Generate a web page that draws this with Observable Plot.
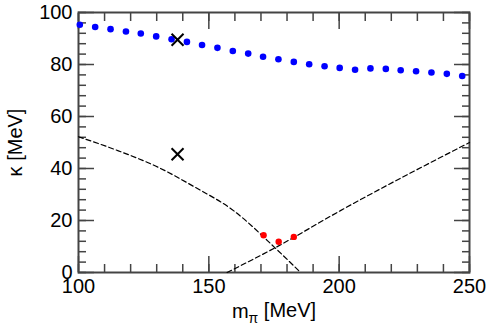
<!DOCTYPE html>
<html>
<head>
<meta charset="utf-8">
<script src="https://cdn.jsdelivr.net/npm/d3@7"></script>
<script src="https://cdn.jsdelivr.net/npm/@observablehq/plot@0.6"></script>
<style>
  html, body { margin: 0; padding: 0; background: #fff; }
  svg { display: block; }
</style>
</head>
<body>
<div id="chart"></div>
<script>
// Blue dots
const blueM = [100.5, 106.4, 112.3, 118.2, 123.9, 129.8, 135.7, 141.6, 147.4, 153.3, 159.2, 165.1, 170.8, 176.7, 182.6, 188.5, 194.4, 200.2, 206.1, 212.0, 217.9, 223.6, 229.5, 235.4, 241.3, 247.2];
const blueK = [95.3, 94.4, 93.6, 92.7, 91.9, 90.8, 89.7, 88.7, 87.5, 86.4, 85.2, 84.2, 83.0, 82.0, 81.0, 80.1, 79.3, 78.7, 78.0, 78.5, 78.3, 77.8, 77.4, 76.9, 76.4, 75.6];
// Red dots
const redM = [171.0, 176.8, 182.6];
const redK = [14.3, 11.8, 13.7];
// Crosses
const crossM = [138, 138];
const crossK = [89.5, 45.5];
// Dashed curve 1 (decreasing)
const line1M = [100, 115.3, 130.7, 144, 159.6, 175.6, 185.2];
const line1K = [52.2, 46.8, 40.4, 33.2, 23.7, 9.3, 0];
// Dashed curve 2 (increasing)
const line2M = [157, 175.6, 200.5, 250];
const line2K = [0, 9.6, 23.8, 50];
// Ticks
const xMajor = [100, 150, 200, 250];
const xMinor = d3.range(100, 251, 10);
const yMajor = [0, 20, 40, 60, 80, 100];
const yMinor = d3.range(0, 101, 4);

const zip = (a, b) => a.map((v, i) => ({m: v, k: b[i]}));
const blue = zip(blueM, blueK);
const red = zip(redM, redK);
const cross = zip(crossM, crossK);
const l1 = zip(line1M, line1K);
const l2 = zip(line2M, line2K);

const font = "Liberation Sans, Arial, Helvetica, sans-serif";
const tickColor = "#444";

const chart = Plot.plot({
  width: 491,
  height: 330,
  marginLeft: 78,
  marginRight: 22,
  marginTop: 12,
  marginBottom: 58,
  style: {fontFamily: font, background: "#fff"},
  x: {domain: [100, 250]},
  y: {domain: [0, 100]},
  marks: [
    // minor ticks
    Plot.axisX({anchor: "bottom", ticks: xMinor, tickSize: -8, tickFormat: () => "", stroke: tickColor, strokeWidth: 1.5, label: null}),
    Plot.axisX({anchor: "top", ticks: xMinor, tickSize: -8, tickFormat: () => "", stroke: tickColor, strokeWidth: 1.5, label: null}),
    Plot.axisY({anchor: "left", ticks: yMinor, tickSize: -8, tickFormat: () => "", stroke: tickColor, strokeWidth: 1.5, label: null}),
    Plot.axisY({anchor: "right", ticks: yMinor, tickSize: -8, tickFormat: () => "", stroke: tickColor, strokeWidth: 1.5, label: null}),
    // major ticks
    Plot.axisX({anchor: "bottom", ticks: xMajor, tickSize: -16, tickFormat: () => "", stroke: tickColor, strokeWidth: 1.5, label: null}),
    Plot.axisX({anchor: "top", ticks: xMajor, tickSize: -16, tickFormat: () => "", stroke: tickColor, strokeWidth: 1.5, label: null}),
    Plot.axisY({anchor: "left", ticks: yMajor, tickSize: -16, tickFormat: () => "", stroke: tickColor, strokeWidth: 1.5, label: null}),
    Plot.axisY({anchor: "right", ticks: yMajor, tickSize: -16, tickFormat: () => "", stroke: tickColor, strokeWidth: 1.5, label: null}),
    // tick labels
    Plot.axisX({anchor: "bottom", ticks: xMajor, tickSize: 0, tickPadding: 6, fontSize: 20, fill: "#000", label: null, tickFormat: d3.format("d")}),
    Plot.axisY({anchor: "left", ticks: yMajor, tickSize: 0, tickPadding: 6, fontSize: 20, fill: "#000", label: null, tickFormat: d3.format("d")}),
    Plot.frame({stroke: tickColor, strokeWidth: 2}),
    // dashed curves
    Plot.line(l1, {x: "m", y: "k", stroke: "#000", strokeWidth: 1.2, strokeDasharray: "5,3", curve: "monotone-x"}),
    Plot.line(l2, {x: "m", y: "k", stroke: "#000", strokeWidth: 1.2, strokeDasharray: "5,3", curve: "monotone-x"}),
    // points
    Plot.dot(blue, {x: "m", y: "k", r: 3.3, fill: "#0000ff", stroke: "none"}),
    Plot.dot(red, {x: "m", y: "k", r: 3.2, fill: "#ff0000", stroke: "none"}),
    Plot.dot(cross, {x: "m", y: "k", symbol: "times", r: 5.5, stroke: "#000", strokeWidth: 2}),
    // axis titles
    Plot.text(["mπ [MeV]"], {frameAnchor: "bottom", dy: 39.5, fontSize: 20, fill: "#000", textAnchor: "middle", lineAnchor: "middle"}),
    Plot.text(["κ [MeV]"], {frameAnchor: "left", dx: -62.5, rotate: -90, fontSize: 20, fill: "#000", textAnchor: "middle", lineAnchor: "middle"})
  ]
});

// subscript π
d3.select(chart).selectAll("text").each(function() {
  const t = d3.select(this);
  if (t.text() === "mπ [MeV]") {
    t.text(null);
    t.append("tspan").text("m");
    t.append("tspan").attr("dy", "0.3em").attr("font-size", "14").text("π");
    t.append("tspan").attr("dy", "-0.3em").text(" [MeV]");
  }
});

document.getElementById("chart").appendChild(chart);
</script>
</body>
</html>
